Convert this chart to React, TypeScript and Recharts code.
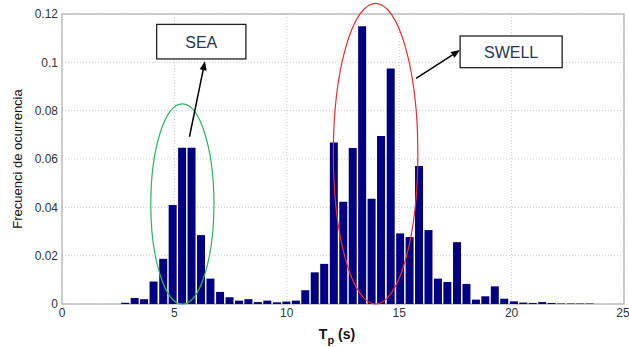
import {
  Bar, CartesianGrid, ComposedChart, ReferenceArea, ReferenceLine, XAxis, YAxis,
} from 'recharts'

/* Histograma de Tp (50 clases) con anotaciones SEA / SWELL. */

// centros de clase (s)
const tpCentres = [
  2.80, 3.22, 3.64, 4.06, 4.49, 4.91, 5.33, 5.75, 6.17, 6.59,
  7.02, 7.44, 7.86, 8.28, 8.70, 9.12, 9.55, 9.97, 10.39, 10.81,
  11.23, 11.65, 12.08, 12.50, 12.92, 13.34, 13.76, 14.18, 14.61, 15.03,
  15.45, 15.87, 16.29, 16.71, 17.13, 17.56, 17.98, 18.40, 18.82, 19.24,
  19.66, 20.09, 20.51, 20.93, 21.35, 21.77, 22.19, 22.62, 23.04, 23.46,
]
// frecuencia de ocurrencia
const frecuencia = [
  0.0005, 0.0025, 0.002, 0.0093, 0.0187, 0.041, 0.0647, 0.0647, 0.0285, 0.0105,
  0.005, 0.0028, 0.0014, 0.002, 0.0008, 0.0014, 0.0007, 0.001, 0.0014, 0.0057,
  0.0131, 0.0166, 0.0668, 0.0423, 0.0646, 0.1149, 0.0436, 0.0695, 0.0975, 0.0292,
  0.0277, 0.0571, 0.0306, 0.0105, 0.0091, 0.0256, 0.0083, 0.0018, 0.0032, 0.0073,
  0.0022, 0.0011, 0.0006, 0.0004, 0.0008, 0.0004, 0.0002, 0.0002, 0.0002, 0.0002,
]
const xTicks = [0, 5, 10, 15, 20, 25]
const yTicks = [0, 0.02, 0.04, 0.06, 0.08, 0.1, 0.12]

const data = tpCentres.map((tp, i) => ({ tp, f: frecuencia[i] }))

const FONT = '"Liberation Sans", Arial, Helvetica, sans-serif'

type Seg = { x1: number; y1: number; x2: number; y2: number }

function ellipseShape(color: string) {
  return (p: Seg) => (
    <ellipse
      cx={(p.x1 + p.x2) / 2} cy={(p.y1 + p.y2) / 2}
      rx={Math.abs(p.x2 - p.x1) / 2} ry={Math.abs(p.y2 - p.y1) / 2}
      fill="none" stroke={color} strokeWidth={1.2}
    />
  )
}

function arrowShape(p: Seg) {
  const ang = Math.atan2(p.y2 - p.y1, p.x2 - p.x1)
  const len = 9, half = 3.5
  const bx = p.x2 - len * Math.cos(ang), by = p.y2 - len * Math.sin(ang)
  const nx = -Math.sin(ang) * half, ny = Math.cos(ang) * half
  return (
    <g>
      <line x1={p.x1} y1={p.y1} x2={bx} y2={by} stroke="#000" strokeWidth={1.5} />
      <polygon points={`${p.x2},${p.y2} ${bx + nx},${by + ny} ${bx - nx},${by - ny}`} fill="#000" />
    </g>
  )
}

function boxShape(text: string) {
  return (p: Seg) => {
    const x = Math.min(p.x1, p.x2), y = Math.min(p.y1, p.y2)
    const w = Math.abs(p.x2 - p.x1), h = Math.abs(p.y2 - p.y1)
    return (
      <g>
        <rect x={x} y={y} width={w} height={h} fill="#fff" stroke="#222" strokeWidth={1.3} />
        <text x={x + w / 2} y={y + h / 2 + 6} textAnchor="middle" fontSize={16} fill="#2a3550" fontFamily={FONT}>{text}</text>
      </g>
    )
  }
}

export default function App() {
  return (
    <div style={{ position: 'absolute', left: 0, top: 0, background: '#fff' }}>
      <ComposedChart width={629} height={347} data={data} margin={{ top: 14, right: 5, bottom: 0, left: 0 }}>
        <CartesianGrid stroke="#c8c8c8" strokeDasharray="1 2" />
        <XAxis
          dataKey="tp" type="number" domain={[0, 25]} ticks={xTicks} allowDataOverflow
          height={43} tickSize={0} tickMargin={4} axisLine={false}
          tick={{ fontSize: 12, fill: '#333', fontFamily: FONT }}
          label={{
            content: ({ viewBox }: any) => (
              <text x={viewBox.x + viewBox.width / 2 - 6} y={viewBox.y + 35} textAnchor="middle" fontFamily={FONT} fill="#111" fontSize={14} fontWeight="bold">
                T<tspan fontSize={11} dy={5}>p</tspan><tspan dy={-5}> (s)</tspan>
              </text>
            ),
          }}
        />
        <YAxis
          type="number" domain={[0, 0.12]} ticks={yTicks} allowDataOverflow
          width={62} tickSize={0} tickMargin={4} axisLine={false}
          tickFormatter={(v: number) => String(v)}
          tick={{ fontSize: 12, fill: '#333', fontFamily: FONT }}
          label={{
            content: ({ viewBox }: any) => {
              const cx = 17, cy = viewBox.y + viewBox.height / 2
              return (
                <text x={cx} y={cy} transform={`rotate(-90 ${cx} ${cy})`} textAnchor="middle" dominantBaseline="central" fontFamily={FONT} fontSize={13} fill="#111">
                  Frecuenci de ocurrencia
                </text>
              )
            },
          }}
        />
        <ReferenceArea x1={0} x2={25} y1={0} y2={0.12} fill="none" stroke="#bdbdbd" strokeWidth={1.5} ifOverflow="visible" />
        <Bar dataKey="f" fill="#000080" barSize={8} isAnimationActive={false} />
        <ReferenceLine segment={[{ x: 3.95, y: 0.0828 }, { x: 6.76, y: 0 }]} ifOverflow="visible" shape={ellipseShape('#2fb35a') as any} />
        <ReferenceLine segment={[{ x: 12.07, y: 0.1244 }, { x: 15.83, y: 0 }]} ifOverflow="visible" shape={ellipseShape('#ee2a2a') as any} />
        <ReferenceLine segment={[{ x: 5.67, y: 0.0692 }, { x: 6.36, y: 0.1005 }]} ifOverflow="visible" shape={arrowShape as any} />
        <ReferenceLine segment={[{ x: 15.75, y: 0.0934 }, { x: 17.71, y: 0.1051 }]} ifOverflow="visible" shape={arrowShape as any} />
        <ReferenceLine segment={[{ x: 4.21, y: 0.1157 }, { x: 8.18, y: 0.1014 }]} ifOverflow="visible" shape={boxShape('SEA') as any} />
        <ReferenceLine segment={[{ x: 17.71, y: 0.1109 }, { x: 22.25, y: 0.0978 }]} ifOverflow="visible" shape={boxShape('SWELL') as any} />
      </ComposedChart>
    </div>
  )
}
